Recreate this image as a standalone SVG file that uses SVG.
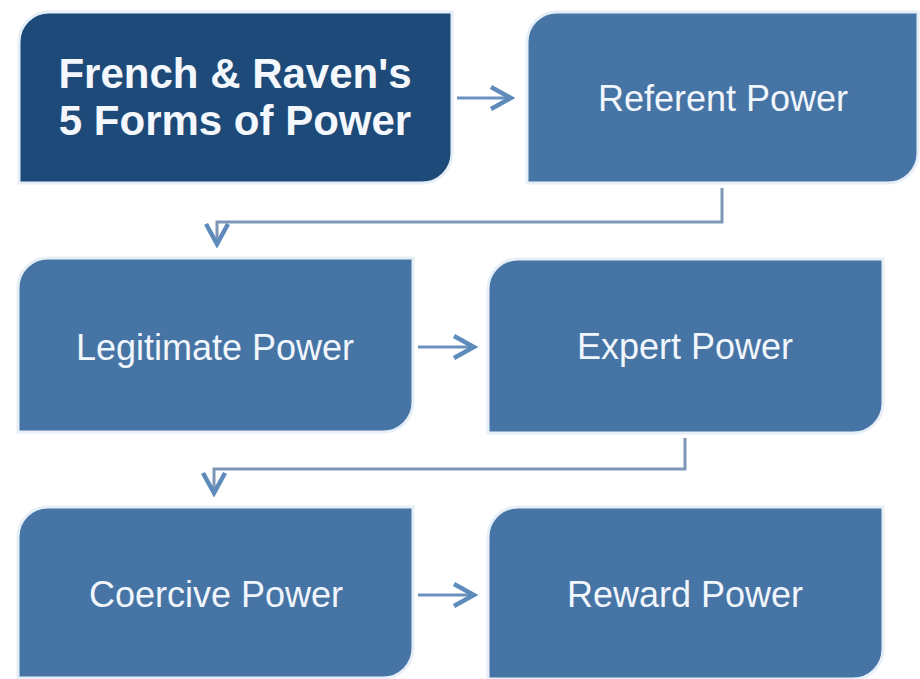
<svg xmlns="http://www.w3.org/2000/svg" width="920" height="679" viewBox="0 0 920 679">
<defs>
<style>
.box{fill:#4674a5;stroke:#e6eef7;stroke-width:3}
.dark{fill:#1d4a79}
.lbl{font-family:"Liberation Sans",Arial,sans-serif;font-size:36px;fill:#f1f6fc;text-anchor:middle}
.ttl{font-family:"Liberation Sans",Arial,sans-serif;font-size:42px;font-weight:bold;fill:#f4f8fc;text-anchor:middle}
.conn{fill:none;stroke:#7f97b6;stroke-width:3}
.arr{fill:none;stroke:#6b92bf;stroke-width:3}
</style>
<marker id="chev" markerUnits="userSpaceOnUse" viewBox="-24 -14 28 28" refX="0" refY="0" markerWidth="28" markerHeight="28" orient="auto">
<path d="M-20,-11 L0,0 L-20,11" fill="none" stroke="#5f8bbc" stroke-width="4.5" stroke-linejoin="miter"/>
</marker>
</defs>
<rect width="920" height="679" fill="#ffffff"/>
<g id="connectors">
<line class="arr" x1="457" y1="98" x2="511" y2="98" marker-end="url(#chev)"/>
<polyline class="conn" points="722,188 722,222 217,222 217,244" marker-end="url(#chev)"/>
<line class="arr" x1="418" y1="347" x2="474" y2="347" marker-end="url(#chev)"/>
<polyline class="conn" points="685,438 685,469 214,469 214,493" marker-end="url(#chev)"/>
<line class="arr" x1="418" y1="595" x2="474" y2="595" marker-end="url(#chev)"/>
</g>
<g id="title">
<path class="box dark" d="M49,12 H452 V153 A30,30 0 0 1 422,183 H19 V42 A30,30 0 0 1 49,12 Z"/>
<text class="ttl" x="235" y="88">French &amp; Raven's</text>
<text class="ttl" x="235" y="135">5 Forms of Power</text>
</g>
<g id="referent">
<path class="box" d="M557,12 H918 V153 A30,30 0 0 1 888,183 H527 V42 A30,30 0 0 1 557,12 Z"/>
<text class="lbl" x="723" y="111">Referent Power</text>
</g>
<g id="legitimate">
<path class="box" d="M48,258 H413 V402 A30,30 0 0 1 383,432 H18 V288 A30,30 0 0 1 48,258 Z"/>
<text class="lbl" x="215" y="360">Legitimate Power</text>
</g>
<g id="expert">
<path class="box" d="M518,259 H883 V403 A30,30 0 0 1 853,433 H488 V289 A30,30 0 0 1 518,259 Z"/>
<text class="lbl" x="685" y="359">Expert Power</text>
</g>
<g id="coercive">
<path class="box" d="M48,507 H413 V648 A30,30 0 0 1 383,678 H18 V537 A30,30 0 0 1 48,507 Z"/>
<text class="lbl" x="216" y="607">Coercive Power</text>
</g>
<g id="reward">
<path class="box" d="M518,507 H883 V649 A30,30 0 0 1 853,679 H488 V537 A30,30 0 0 1 518,507 Z"/>
<text class="lbl" x="685" y="607">Reward Power</text>
</g>
</svg>
